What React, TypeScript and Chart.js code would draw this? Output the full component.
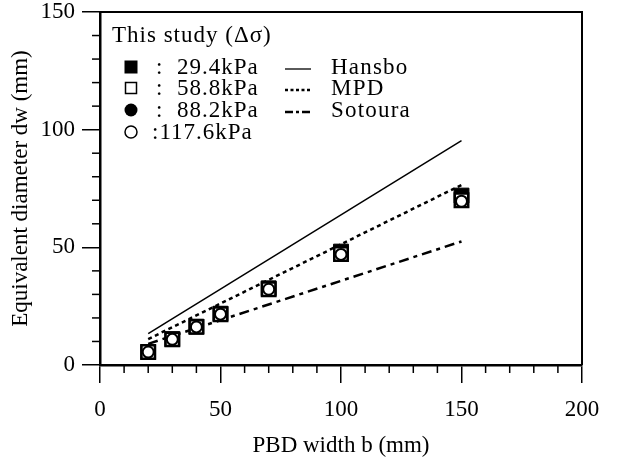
import React, { useEffect, useRef } from "react";
import { Chart, registerables } from "chart.js";

Chart.register(...registerables);

// PBD width b (mm)
const widths = [20, 30, 40, 50, 70, 100, 150];
// Equivalent diameter dw (mm) for each Δσ
const dw294 = [5.5, 11, 16.3, 21.8, 32.6, 48.2, 72];
const dw588 = [5.5, 10.9, 16.2, 21.6, 32.2, 47.2, 70];
const dw882 = [5.5, 10.9, 16.2, 21.6, 32.2, 47, 69.6];
const dw1176 = [5.5, 10.9, 16.2, 21.6, 32.2, 47, 69.6];
// Theoretical lines (end points)
const lineX = [20, 150];
const hansboY = [13.3, 95.3];
const mpdY = [11, 76.5];
const sotouraY = [9, 52.5];
// Axis ticks
const xTicks = [0, 50, 100, 150, 200];
const yTicks = [0, 50, 100, 150];
// Legend texts
const legendTitle = "This study (Δσ)";
const pressureLabels = ["29.4kPa", "58.8kPa", "88.2kPa", "117.6kPa"];
const theoryLabels = ["Hansbo", "MPD", "Sotoura"];

const FONT = '"Liberation Serif", "Times New Roman", serif';

const pts = (xs: number[], ys: number[]) => xs.map((x, i) => ({ x, y: ys[i] }));

const framePlugin = {
  id: "frame",
  beforeDatasetsDraw(chart: any) {
    const { ctx, chartArea: a } = chart;
    ctx.save();
    ctx.strokeStyle = "#000";
    ctx.lineWidth = 2;
    ctx.beginPath();
    ctx.moveTo(a.left, a.top);
    ctx.lineTo(a.right, a.top);
    ctx.lineTo(a.right, a.bottom);
    ctx.stroke();
    // minor ticks
    const xs = chart.scales.x;
    const ys = chart.scales.y;
    ctx.lineWidth = 1.5;
    for (let v = 10; v < 200; v += 10) {
      if (v % 50 === 0) continue;
      const px = xs.getPixelForValue(v);
      ctx.beginPath();
      ctx.moveTo(px, a.bottom);
      ctx.lineTo(px, a.bottom + 8);
      ctx.stroke();
    }
    for (let v = 10; v < 150; v += 10) {
      if (v % 50 === 0) continue;
      const py = ys.getPixelForValue(v);
      ctx.beginPath();
      ctx.moveTo(a.left, py);
      ctx.lineTo(a.left - 8, py);
      ctx.stroke();
    }
    ctx.restore();
  },
};

const legendPlugin = {
  id: "customLegend",
  afterDraw(chart: any) {
    const ctx = chart.ctx;
    ctx.save();
    ctx.fillStyle = "#000";
    ctx.strokeStyle = "#000";
    ctx.textBaseline = "alphabetic";
    ctx.font = `23px ${FONT}`;
    (ctx as any).letterSpacing = "1px";
    ctx.fillText(legendTitle, 112, 42);
    const baselines = [74, 95, 117, 139];
    baselines.forEach((b, i) => {
      const cy = b - 7;
      const cx = 131;
      ctx.lineWidth = 1.5;
      if (i === 0) {
        ctx.fillRect(cx - 6.5, cy - 6.5, 13, 13);
      } else if (i === 1) {
        ctx.strokeRect(cx - 5.5, cy - 5.5, 11, 11);
      } else if (i === 2) {
        ctx.beginPath();
        ctx.arc(cx, cy, 6.5, 0, Math.PI * 2);
        ctx.fill();
      } else {
        ctx.beginPath();
        ctx.arc(cx, cy, 6, 0, Math.PI * 2);
        ctx.stroke();
      }
      (ctx as any).letterSpacing = "1px";
      if (i < 3) {
        ctx.fillText(":", 156, b);
        ctx.fillText(pressureLabels[i], 177, b);
      } else {
        ctx.fillText(":" + pressureLabels[i], 152, b);
      }
      if (i < 3) {
        const ly = b - 5;
        ctx.lineWidth = i === 0 ? 1.3 : 2.5;
        ctx.setLineDash(i === 0 ? [] : i === 1 ? [3, 2.5] : [8, 3, 3, 3]);
        ctx.beginPath();
        ctx.moveTo(285, ly);
        ctx.lineTo(311, ly);
        ctx.stroke();
        ctx.setLineDash([]);
        (ctx as any).letterSpacing = "1.2px";
        ctx.fillText(theoryLabels[i], 331, b);
      }
    });
    ctx.restore();
  },
};

export default function App() {
  const ref = useRef<HTMLCanvasElement>(null);
  useEffect(() => {
    const canvas = ref.current!;
    const lineDs = (label: string, ys: number[], dash: number[], width: number, order: number) => ({
      type: "line" as const,
      label,
      data: pts(lineX, ys),
      borderColor: "#000",
      borderWidth: width,
      borderDash: dash,
      pointRadius: 0,
      showLine: true,
      fill: false,
      order,
    });
    const chart = new Chart(canvas, {
      type: "scatter",
      data: {
        datasets: [
          lineDs("Hansbo", hansboY, [], 1.5, 10),
          lineDs("MPD", mpdY, [4, 3.5], 2.5, 9),
          lineDs("Sotoura", sotouraY, [10, 5, 4, 5], 2.5, 8),
          {
            label: pressureLabels[0],
            data: pts(widths, dw294),
            pointStyle: "rect",
            pointRadius: 10.5,
            backgroundColor: "#000",
            borderColor: "#000",
            borderWidth: 1,
            order: 7,
          },
          {
            label: pressureLabels[2],
            data: pts(widths, dw882),
            pointStyle: "circle",
            pointRadius: 6,
            backgroundColor: "#000",
            borderColor: "#000",
            borderWidth: 1,
            order: 6,
          },
          {
            label: pressureLabels[1],
            data: pts(widths, dw588),
            pointStyle: "rect",
            pointRadius: 9.5,
            backgroundColor: "#fff",
            borderColor: "#000",
            borderWidth: 2.5,
            order: 5,
          },
          {
            label: pressureLabels[3],
            data: pts(widths, dw1176),
            pointStyle: "circle",
            pointRadius: 5.5,
            backgroundColor: "#fff",
            borderColor: "#000",
            borderWidth: 2,
            order: 4,
          },
        ],
      },
      options: {
        responsive: false,
        animation: false,
        layout: { padding: { left: 0, top: 12, right: 40, bottom: 0 } },
        plugins: { legend: { display: false }, tooltip: { enabled: false } },
        scales: {
          x: {
            type: "linear",
            min: 0,
            max: 200,
            afterFit: (s: any) => {
              s.height = 98;
              s.paddingLeft = 0;
              s.paddingRight = 0;
            },
            afterBuildTicks: (s: any) => {
              s.ticks = xTicks.map((v) => ({ value: v }));
            },
            ticks: { color: "#000", font: { family: FONT, size: 23 }, padding: 13, maxRotation: 0 },
            grid: { drawOnChartArea: false, drawTicks: true, tickLength: 18, color: "#000", lineWidth: 1.5 },
            border: { display: true, color: "#000", width: 2.5 },
            title: {
              display: true,
              text: "PBD width b (mm)",
              color: "#000",
              font: { family: FONT, size: 23 },
              padding: { top: 4, bottom: 3 },
            },
          },
          y: {
            type: "linear",
            min: 0,
            max: 150,
            afterFit: (s: any) => {
              s.width = 100;
              s.paddingTop = 0;
              s.paddingBottom = 0;
            },
            afterBuildTicks: (s: any) => {
              s.ticks = yTicks.map((v) => ({ value: v }));
            },
            ticks: { color: "#000", font: { family: FONT, size: 23 }, padding: 7 },
            grid: { drawOnChartArea: false, drawTicks: true, tickLength: 18, color: "#000", lineWidth: 1.5 },
            border: { display: true, color: "#000", width: 2.5 },
            title: {
              display: true,
              text: "Equivalent diameter dw (mm)",
              color: "#000",
              font: { family: FONT, size: 23 },
              padding: { top: 7, bottom: 0 },
            },
          },
        },
      },
      plugins: [framePlugin, legendPlugin],
    });
    return () => chart.destroy();
  }, []);
  return (
    <div style={{ position: "fixed", left: 0, top: 0, width: 622, height: 463, background: "#fff" }}>
      <canvas ref={ref} width={622} height={463} style={{ display: "block" }} />
    </div>
  );
}
